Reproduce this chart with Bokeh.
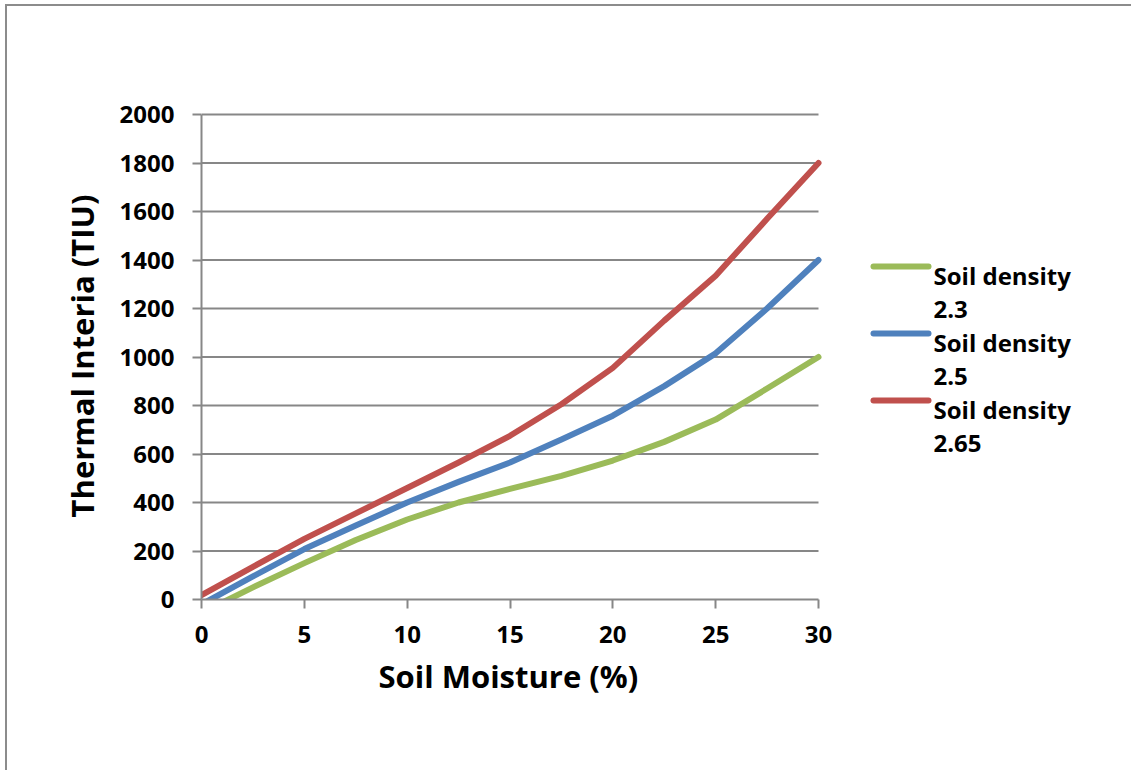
from bokeh.plotting import figure
from bokeh.models import FixedTicker, Range1d, Title
from bokeh.layouts import column
from bokeh.core.properties import value
from bokeh.embed import file_html
from bokeh.resources import INLINE

# Soil moisture (%) and thermal inertia (TIU) for three soil densities
moisture = [0, 2.5, 5, 7.5, 10, 12.5, 15, 17.5, 20, 22.5, 25, 27.5, 30]
ti_density_2_3 = [-55, 50, 150, 245, 330, 400, 456, 510, 573, 650, 742, 870, 1000]
ti_density_2_5 = [-20, 95, 208, 305, 400, 485, 565, 660, 758, 880, 1015, 1200, 1400]
ti_density_2_65 = [18, 135, 250, 355, 460, 565, 675, 805, 955, 1150, 1335, 1570, 1800]

series_names = ["Soil density", "Soil density", "Soil density"]
series_values = ["2.3", "2.5", "2.65"]
x_ticks = [0, 5, 10, 15, 20, 25, 30]
y_ticks = list(range(0, 2001, 200))
X_MAX, Y_MAX = 30, 2000

FONT = "Open Sans"
GRID = "#878787"
EDGE = "#8c8c8c"
COLORS = ["#9BBB59", "#4F81BD", "#C0504D"]

# geometry (page pixels): plot area 201..818 x 114..599, page offset by border;
# the chart area runs on past the right and bottom edges of the page
OFF_X, OFF_Y = 7, 6
PLOT_L, PLOT_R, PLOT_T, PLOT_B = 201, 818, 114, 599
W, H = 1131 - OFF_X + 14, 770 - OFF_Y + 6
px_per_x = (PLOT_R - PLOT_L) / X_MAX
px_per_y = (PLOT_B - PLOT_T) / Y_MAX
TOP_PAD = 2  # room so the top grid line is not clipped
frame_w = W - (PLOT_L - OFF_X)
frame_h = PLOT_B - PLOT_T + TOP_PAD


def dx(px):
    return (px - PLOT_L) / px_per_x


def dy(py):
    return (PLOT_B - py) / px_per_y


p = figure(width=W, height=H, frame_width=frame_w, frame_height=frame_h,
           output_backend="svg", toolbar_location=None,
           x_range=Range1d(0, frame_w / px_per_x),
           y_range=Range1d(0, frame_h / px_per_y),
           min_border_left=PLOT_L - OFF_X, min_border_right=0,
           min_border_top=PLOT_T - OFF_Y - TOP_PAD,
           min_border_bottom=H - (PLOT_B - OFF_Y))
p.outline_line_color = None
p.background_fill_color = "white"
p.border_fill_color = "white"
p.grid.visible = False

# horizontal grid lines across the plot area
p.segment(x0=[0] * (len(y_ticks) - 1), x1=[X_MAX] * (len(y_ticks) - 1),
          y0=y_ticks[1:], y1=y_ticks[1:], line_color=GRID, line_width=2)

for ys, c in zip([ti_density_2_3, ti_density_2_5, ti_density_2_65], COLORS):
    p.line(moisture, ys, line_color=c, line_width=6, line_join="round",
           line_cap="round")

p.xaxis.ticker = FixedTicker(ticks=x_ticks)
p.yaxis.ticker = FixedTicker(ticks=y_ticks)
p.xaxis.bounds = (0, X_MAX)
p.yaxis.bounds = (0, Y_MAX)
for ax in (p.xaxis[0], p.yaxis[0]):
    ax.axis_line_color = GRID
    ax.axis_line_width = 2
    ax.major_tick_line_color = GRID
    ax.major_tick_line_width = 2
    ax.major_tick_in = 0
    ax.major_tick_out = 9
    ax.minor_tick_line_color = None
    ax.major_label_text_font = FONT
    ax.major_label_text_font_style = "bold"
    ax.major_label_text_font_size = "24px"
    ax.major_label_text_color = "black"
    ax.axis_label_text_font = FONT
    ax.axis_label_text_font_style = "bold"
    ax.axis_label_text_font_size = "31px"
    ax.axis_label_text_color = "black"

p.yaxis.axis_label = "Thermal Interia (TIU)"
p.xaxis.major_label_standoff = 17
p.yaxis.major_label_standoff = 18
p.yaxis.axis_label_standoff = 14

# x-axis title, centred under the plot area
p.add_layout(Title(text="Soil Moisture (%)", align="left", offset=177,
                   text_font=FONT, text_font_style="bold",
                   text_font_size="31px", text_color="black", standoff=14),
             "below")

# legend to the right of the plot area
sw_x0, sw_x1, txt_x = 873, 928, 933
first_line, pitch, line_gap = 266, 67, 34
for i, c in enumerate(COLORS):
    yc = first_line + i * pitch
    p.segment(x0=[dx(sw_x0)], x1=[dx(sw_x1)], y0=[dy(yc)], y1=[dy(yc)],
              line_color=c, line_width=6, line_cap="round")
    p.text(x=[dx(txt_x), dx(txt_x)], y=[dy(yc + 9), dy(yc + 9 + line_gap)],
           text=[series_names[i], series_values[i]],
           text_font=value(FONT), text_font_style="bold",
           text_font_size="24px", text_color="black",
           text_baseline="alphabetic", text_align="left")

# chart-area border on the left and top
layout = column(p, styles={"border-left": f"2px solid {EDGE}",
                           "border-top": f"2px solid {EDGE}",
                           "margin-left": "5px", "margin-top": "4px"})
page = file_html(layout, INLINE)
page = page.replace("</head>",
                    "<style>html,body{margin:0;overflow:hidden;}</style></head>", 1)
open("out.html", "w").write(page)
